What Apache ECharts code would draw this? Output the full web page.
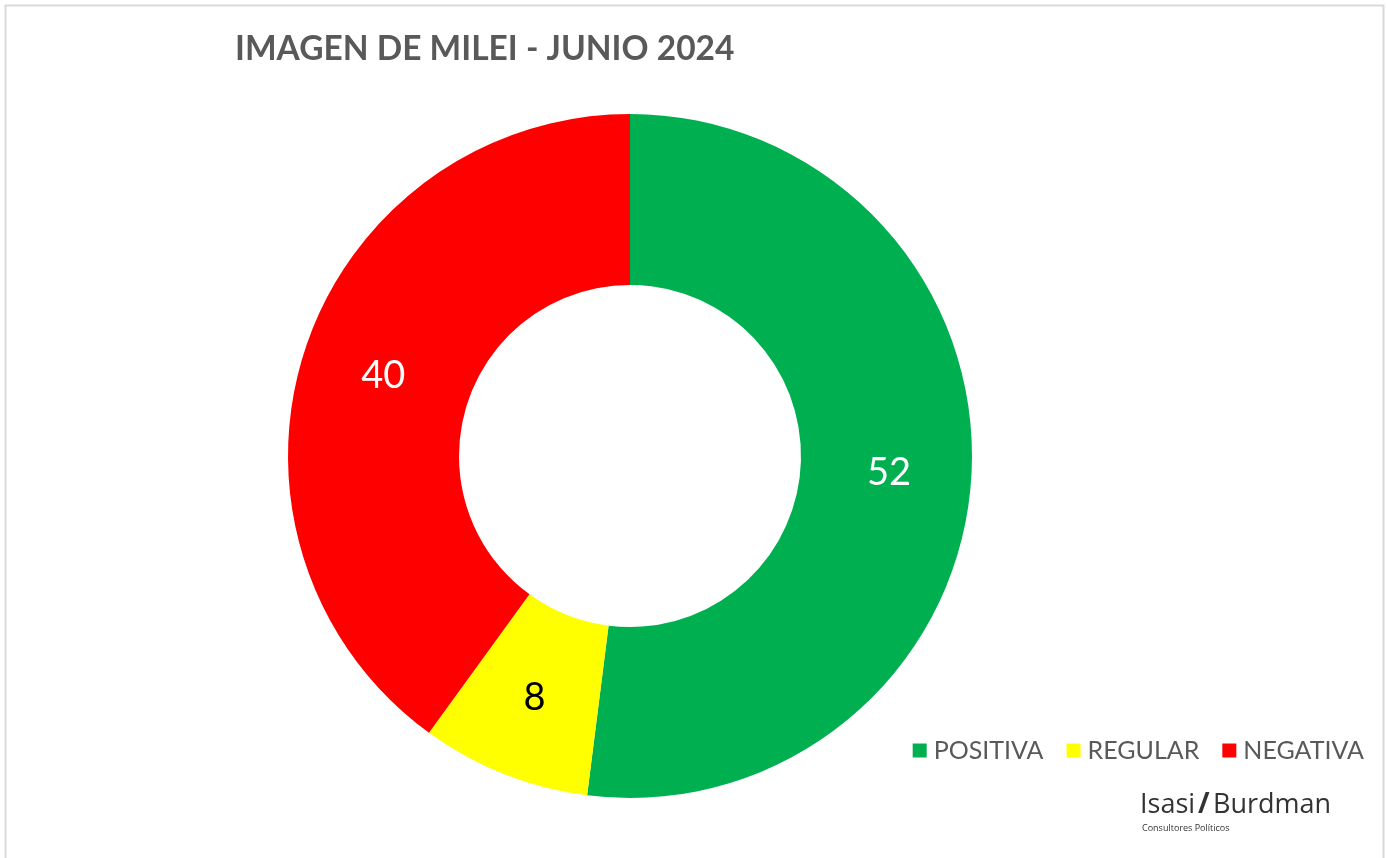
<!DOCTYPE html>
<html>
<head>
<meta charset="utf-8">
<title>Imagen de Milei - Junio 2024</title>
<script src="https://cdn.jsdelivr.net/npm/echarts@6/dist/echarts.min.js"></script>
<style>
  html, body { margin: 0; padding: 0; background: #fff; }
  #chart { width: 1386px; height: 858px; }
</style>
</head>
<body>
<div id="chart"></div>
<script>
const categories = ['POSITIVA', 'REGULAR', 'NEGATIVA']
const values = [52, 8, 40]
const colors = ['#00B050', '#FFFF00', '#FF0000']
const labelColors = ['#ffffff', '#000000', '#ffffff']

const chart = echarts.init(document.getElementById('chart'))

const option = {
  backgroundColor: '#ffffff',
  animation: false,
  title: {
    text: 'IMAGEN DE MILEI - JUNIO 2024',
    left: 230,
    top: 27,
    textStyle: {
      fontFamily: 'Lato',
      fontWeight: 'bold',
      fontSize: 33.5,
      color: '#595959'
    }
  },
  legend: {
    data: categories,
    right: 17,
    top: 733,
    icon: 'rect',
    itemWidth: 14,
    itemHeight: 14,
    itemGap: 23,
    textStyle: {
      fontFamily: 'Lato',
      fontSize: 25,
      color: '#595959',
      padding: [0, 0, 0, 2]
    }
  },
  graphic: [
    // frame around the chart area
    {
      type: 'rect',
      shape: { x: 5.5, y: 5.5, width: 1378, height: 860 },
      style: { fill: 'none', stroke: '#d9d9d9', lineWidth: 2 }
    },
    {
      type: 'text',
      left: 1140,
      top: 792,
      style: {
        text: 'Isasi',
        fontFamily: 'Open Sans',
        fontSize: 27,
        fill: '#333333'
      }
    },
    {
      type: 'text',
      left: 1198,
      top: 791,
      style: {
        text: '/',
        fontFamily: 'Open Sans',
        fontWeight: 'bold',
        fontSize: 28,
        fill: '#333333'
      }
    },
    {
      type: 'text',
      left: 1213,
      top: 792,
      style: {
        text: 'Burdman',
        fontFamily: 'Open Sans',
        fontSize: 27,
        fill: '#333333'
      }
    },
    {
      type: 'text',
      left: 1142,
      top: 824,
      style: {
        text: 'Consultores Políticos',
        fontFamily: 'Open Sans',
        fontSize: 9,
        fill: '#333333'
      }
    }
  ],
  series: [
    {
      name: 'Imagen',
      type: 'pie',
      center: [630, 456],
      radius: [171, 342],
      startAngle: 90,
      clockwise: true,
      avoidLabelOverlap: false,
      data: categories.map((name, i) => ({
        name: name,
        value: values[i],
        itemStyle: { color: colors[i] },
        label: { color: labelColors[i] }
      })),
      itemStyle: { borderWidth: 0 },
      label: {
        show: true,
        position: 'inside',
        formatter: '{c}',
        fontFamily: 'Lato',
        fontSize: 38
      },
      labelLine: { show: false },
      emphasis: { disabled: true }
    }
  ]
}

chart.setOption(option)
</script>
</body>
</html>
